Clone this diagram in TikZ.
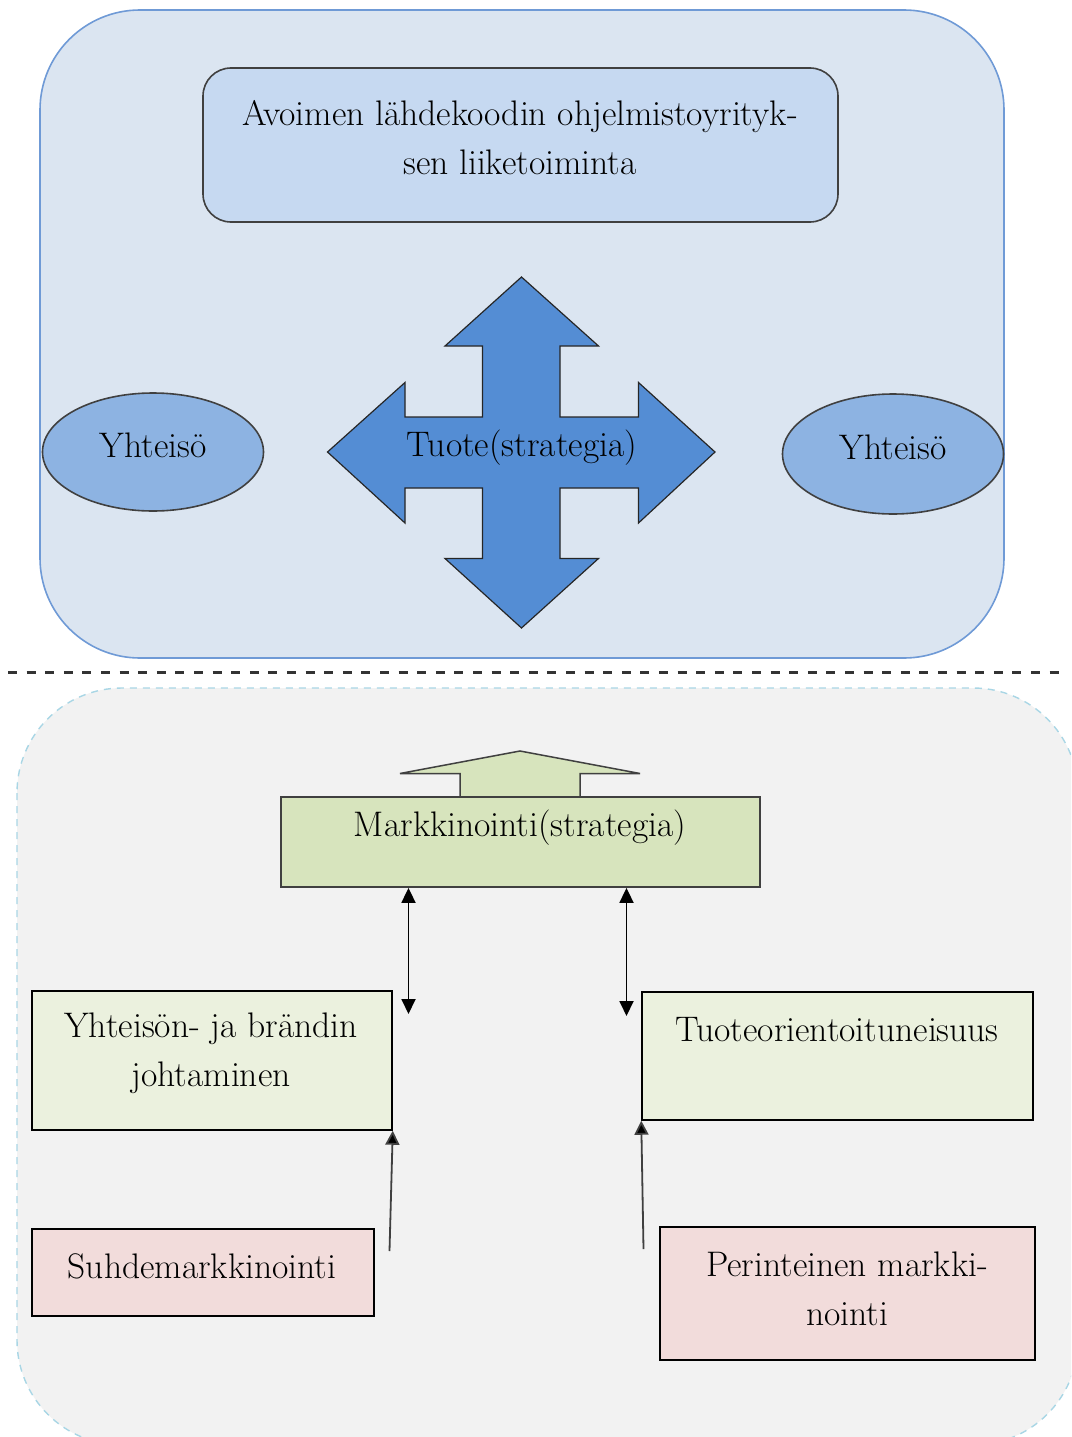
\documentclass[tikz,border=0pt]{standalone}
\usetikzlibrary{arrows.meta}
\definecolor{topfill}{HTML}{DBE5F1}
\definecolor{topline}{HTML}{6F9AD6}
\definecolor{innerfill}{HTML}{C6D9F1}
\definecolor{crossfill}{HTML}{548DD4}
\definecolor{ellfill}{HTML}{8DB3E2}
\definecolor{botfill}{HTML}{F2F2F2}
\definecolor{botline}{HTML}{A9D6E5}
\definecolor{mkfill}{HTML}{D7E4BD}
\definecolor{greenfill}{HTML}{EBF1DE}
\definecolor{pinkfill}{HTML}{F2DCDB}
\definecolor{darkline}{HTML}{404040}
\tikzset{
  txt/.style={font=\fontsize{35.5}{49}\selectfont, align=center, inner sep=0pt, text=black},
  ell/.style={ellipse, draw=darkline, fill=ellfill, line width=1.6pt},
  gbox/.style={rectangle, draw=black, fill=greenfill, line width=1.5pt, inner sep=0pt},
  pbox/.style={rectangle, draw=black, fill=pinkfill, line width=1.5pt, inner sep=0pt},
  conn/.style={line width=1.8pt, draw=black},
}
\usetikzlibrary{shapes.geometric}
\begin{document}
\begin{tikzpicture}[x=1pt,y=-1pt]
\useasboundingbox (0,0) rectangle (1071,1437);
% upper panel
\draw[fill=topfill, draw=topline, line width=1.6pt, rounded corners=100pt] (40,10) rectangle (1004,658);
\node[draw=darkline, fill=innerfill, line width=1.6pt, rounded corners=28pt, minimum width=635pt, minimum height=154pt, inner sep=0pt] (biz) at (520.5,145) {};
\node[txt] (biztxt) at (520,138) {Avoimen lähdekoodin ohjelmistoyrityk-\\sen liiketoiminta};
% cross arrow
\draw[fill=crossfill, draw=black!85, line width=1.2pt, line join=miter]
  (521.5,277) -- (598.5,346) -- (560,346) -- (560,417) -- (638.5,417) -- (638.5,382.5)
  -- (715,452) -- (638.5,523) -- (638.5,488) -- (560,488) -- (560,558.5) -- (598.5,558.5)
  -- (521.5,628) -- (445,558.5) -- (482.5,558.5) -- (482.5,488) -- (405,488) -- (405,523)
  -- (327.5,452) -- (405,382.5) -- (405,417) -- (482.5,417) -- (482.5,346) -- (445,346) -- cycle;
\node[txt] (tuote) at (522,448) {Tuote(strategia)};
\node[ell, minimum width=221pt, minimum height=118pt] (yl) at (153,452) {};
\node[txt] (yltxt) at (153,445) {Yhteisö};
\node[ell, minimum width=221pt, minimum height=120pt] (yr) at (893,454) {};
\node[txt] (yrtxt) at (893,447) {Yhteisö};
% separator
\draw[draw=black!80, line width=3pt, dash pattern=on 9pt off 9.6pt] (8,672) -- (1068,672);
% lower panel
\begin{scope}
\clip (0,0) rectangle (1071,1437);
\draw[fill=botfill, draw=botline, line width=1.4pt, dash pattern=on 7pt off 6pt, rounded corners=105pt] (17,688) rectangle (1078,1445);
\end{scope}
% marketing block
\draw[fill=mkfill, draw=darkline, line width=1.5pt] (520,751) -- (640,773.5) -- (580,773.5) -- (580,797) -- (460,797) -- (460,773.5) -- (400,773.5) -- cycle;
\node[rectangle, draw=darkline, fill=mkfill, line width=1.8pt, minimum width=479pt, minimum height=90pt, inner sep=0pt] (mk) at (520.5,842) {};
\node[txt] (mktxt) at (520,828) {Markkinointi(strategia)};
% green boxes
\node[gbox, minimum width=360pt, minimum height=139pt] (yb) at (212,1060.5) {};
\node[txt] (ybtxt) at (211,1053) {Yhteisön- ja brändin\\johtaminen};
\node[gbox, minimum width=391pt, minimum height=128pt] (to) at (837.5,1056) {};
\node[txt] (totxt) at (837,1030) {Tuoteorientoituneisuus};
% pink boxes
\node[pbox, minimum width=342pt, minimum height=87pt] (sm) at (203,1272.5) {};
\node[txt] (smtxt) at (202,1266) {Suhdemarkkinointi};
\node[pbox, minimum width=375pt, minimum height=133pt] (pm) at (847.5,1293.5) {};
\node[txt] (pmtxt) at (847,1289) {Perinteinen markki-\\nointi};
% connectors
\coordinate (ld) at (408.5,1014);
\coordinate (rd) at (626.5,1016);
\coordinate (lu) at (389.5,1251);
\coordinate (ru) at (643.5,1249);
\draw[conn, {Triangle[length=15pt,width=14pt]}-{Triangle[length=15pt,width=14pt]}] (mk.south -| ld) -- (ld);
\draw[conn, {Triangle[length=15pt,width=14pt]}-{Triangle[length=15pt,width=14pt]}] (mk.south -| rd) -- (rd);
\draw[line width=1.8pt, draw=black!75, -{Triangle[length=14pt,width=14pt,fill=black]}] (lu) -- (yb.south east);
\draw[line width=1.8pt, draw=black!75, -{Triangle[length=14pt,width=14pt,fill=black]}] (ru) -- (to.south west);
\end{tikzpicture}
\end{document}
